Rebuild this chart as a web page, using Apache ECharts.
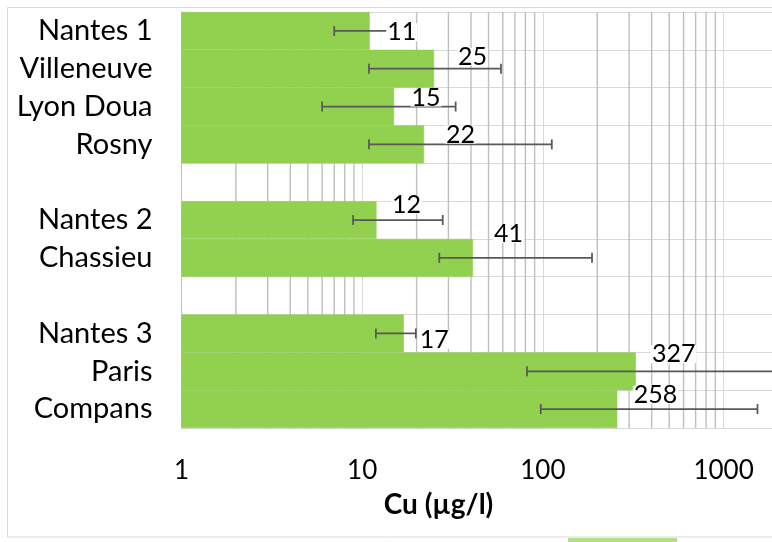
<!DOCTYPE html>
<html><head><meta charset="utf-8">
<script src="https://cdn.jsdelivr.net/npm/echarts@6/dist/echarts.min.js"></script>
<style>html,body{margin:0;padding:0;background:#fff}#c{width:772px;height:542px}</style>
</head><body><div id="c"></div>
<script>
const categories = ['Nantes 1','Villeneuve','Lyon Doua','Rosny','','Nantes 2','Chassieu','','Nantes 3','Paris','Compans'];
const cuValues = [11,25,15,22,null,12,41,null,17,327,258];
const errLow = [7.0,10.9,6.0,10.9,null,8.9,26.7,null,11.9,81.6,97.3];
const errHigh = [14.5,58.6,32.9,112,null,27.9,187,null,19.8,2500,1540];
const xTickValues = [1,10,100,1000];
const minorGridValues = [2,3,4,5,6,7,8,9,20,30,40,50,60,70,80,90,200,300,400,500,600,700,800,900];
const labelNudge = [[2.5,1.4],[9,-11.5],[2.5,-9],[7,-9.8],null,[0.5,-15.4],[6,-23.9],null,[1,6.4],[1,-16.9],[1.5,-14.4]];

const FONT = 'Lato';
const chart = echarts.init(document.getElementById('c'), null, {renderer:'canvas'});

const errData = [];
const labelData = [];
cuValues.forEach((v, i) => {
  if (v == null) return;
  errData.push([i, errLow[i], errHigh[i]]);
  labelData.push({value: [v, i], label: {offset: labelNudge[i]}});
});

const option = {
  backgroundColor: '#fff',
  animation: false,
  grid: {left: 181.5, top: 12, width: 596.5, height: 416, containLabel: false, outerBoundsMode: 'none'},
  xAxis: {
    type: 'log', logBase: 10, min: 1, max: 2000,
    axisLine: {show: false}, axisTick: {show: false},
    axisLabel: {
      margin: 30, fontFamily: FONT, fontSize: 26, color: '#000',
      showMaxLabel: false,
      formatter: v => { const r = Math.round(v); return xTickValues.indexOf(r) >= 0 ? String(r) : ''; }
    },
    splitLine: {show: true, lineStyle: {color: '#d9d9d9', width: 1}}
  },
  yAxis: {
    type: 'category', inverse: true, data: categories,
    axisLine: {show: true, onZero: false, lineStyle: {color: '#bfbfbf', width: 1}},
    axisTick: {show: false},
    axisLabel: {margin: 29, fontFamily: FONT, fontSize: 29, color: '#000'},
    splitLine: {show: true, lineStyle: {color: '#d9d9d9', width: 1}}
  },
  series: [
    {
      type: 'custom', z: 1, silent: true,
      data: minorGridValues.map(v => [v, 0]),
      encode: {x: 0, y: 1},
      renderItem: (params, api) => {
        const cs = params.coordSys;
        const x = api.coord([api.value(0), 0])[0];
        return {type: 'line', shape: {x1: x, y1: cs.y, x2: x, y2: cs.y + cs.height},
          style: {stroke: '#bfbfbf', lineWidth: 1.4}};
      }
    },
    {
      type: 'bar', z: 2, data: cuValues, barCategoryGap: '0%',
      itemStyle: {color: '#92D050', borderColor: '#92D050', borderWidth: 0.6}
    },
    {
      type: 'custom', z: 3, silent: true, data: errData,
      encode: {y: 0, x: [1, 2]},
      renderItem: (params, api) => {
        const i = api.value(0);
        const p1 = api.coord([api.value(1), i]);
        const p2 = api.coord([api.value(2), i]);
        const h = 5;
        const st = {stroke: '#595959', lineWidth: 1.75};
        return {type: 'group', children: [
          {type: 'line', shape: {x1: p1[0], y1: p1[1], x2: p2[0], y2: p2[1]}, style: st},
          {type: 'line', shape: {x1: p1[0], y1: p1[1]-h, x2: p1[0], y2: p1[1]+h}, style: st},
          {type: 'line', shape: {x1: p2[0], y1: p2[1]-h, x2: p2[0], y2: p2[1]+h}, style: st}
        ]};
      }
    },
    {
      type: 'scatter', z: 4, silent: true, symbolSize: 0, data: labelData,
      itemStyle: {opacity: 1},
      label: {
        show: true, position: 'right', distance: 14,
        fontFamily: FONT, fontSize: 25, color: '#000', opacity: 1,
        backgroundColor: '#fff', lineHeight: 18, padding: [0, 1],
        formatter: p => String(p.value[0])
      }
    }
  ],
  graphic: [
    {type: 'rect', silent: true, z: -1, shape: {x: 7.5, y: 7.5, width: 800, height: 529.5},
      style: {fill: 'none', stroke: '#d9d9d9', lineWidth: 1}},
    {type: 'text', silent: true, style: {text: 'Cu (µg/l)', x: 438.5, y: 505, align: 'center', verticalAlign: 'middle',
      font: 'bold 28px Lato', fill: '#000'}},
    {type: 'rect', silent: true, shape: {x: 568, y: 538, width: 109, height: 4}, style: {fill: '#b5de8c'}}
  ]
};
chart.setOption(option);
</script></body></html>
